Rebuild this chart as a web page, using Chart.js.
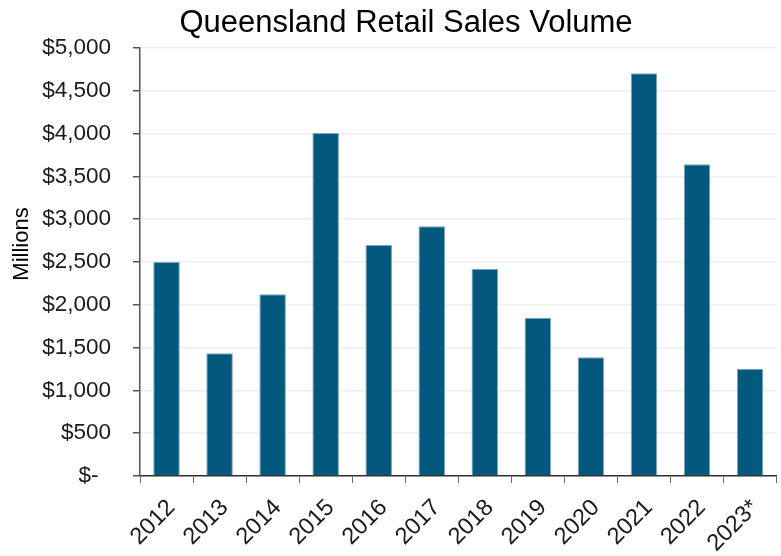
<!DOCTYPE html>
<html>
<head>
<meta charset="utf-8">
<script src="https://cdn.jsdelivr.net/npm/chart.js@4/dist/chart.umd.min.js"></script>
<style>
  html, body { margin: 0; padding: 0; background: #ffffff; }
  #wrap { width: 781px; height: 556px; }
</style>
</head>
<body>
<div id="wrap"><canvas id="c" width="781" height="556"></canvas></div>
<script>
const categories = ['2012', '2013', '2014', '2015', '2016', '2017', '2018', '2019', '2020', '2021', '2022', '2023*'];
const salesVolume = [2500, 1435, 2122, 4007, 2700, 2917, 2422, 1850, 1386, 4704, 3641, 1254];
const yTickLabels = ['$-  ', '$500', '$1,000', '$1,500', '$2,000', '$2,500', '$3,000', '$3,500', '$4,000', '$4,500', '$5,000'];
const chartTitle = 'Queensland Retail Sales Volume';
const yAxisTitle = 'Millions';

const FONT = "'Liberation Sans', Arial, Helvetica, sans-serif";

const textPlugin = {
  id: 'textPlugin',
  afterDraw(chart) {
    const ctx = chart.ctx;
    ctx.save();
    ctx.fillStyle = '#000000';
    ctx.font = "31px " + FONT;
    ctx.textAlign = 'center';
    ctx.textBaseline = 'alphabetic';
    ctx.fillText(chartTitle, 406, 32);
    ctx.translate(22, 244);
    ctx.rotate(-Math.PI / 2);
    ctx.font = "22px " + FONT;
    ctx.textBaseline = 'middle';
    ctx.fillText(yAxisTitle, 0, 0);
    ctx.restore();
  }
};

new Chart(document.getElementById('c'), {
  type: 'bar',
  data: {
    labels: categories,
    datasets: [{
      data: salesVolume,
      backgroundColor: '#03597D',
      borderColor: '#7FA6BE',
      borderWidth: 1,
      categoryPercentage: 1.0,
      barPercentage: 0.5
    }]
  },
  plugins: [textPlugin],
  options: {
    responsive: false,
    animation: false,
    layout: { padding: { left: 0, right: -3, top: 48, bottom: 0 } },
    plugins: {
      legend: { display: false },
      tooltip: { enabled: false },
      title: { display: false }
    },
    scales: {
      x: {
        grid: {
          display: true,
          drawOnChartArea: false,
          drawTicks: true,
          tickLength: 7,
          color: '#666666',
          offset: true
        },
        border: { display: true, color: '#333333', width: 1.5 },
        ticks: {
          color: '#1a1a1a',
          font: { family: FONT, size: 23.5 },
          maxRotation: 45,
          minRotation: 45,
          padding: 11,
          labelOffset: 5,
          autoSkip: false
        },
        afterFit: (scale) => { scale.height = 80; }
      },
      y: {
        min: 0,
        max: 5000,
        ticks: {
          stepSize: 500,
          color: '#1a1a1a',
          font: { family: FONT, size: 22.5 },
          padding: 22,
          callback: (value, index) => yTickLabels[index]
        },
        grid: {
          color: '#EEEEEE',
          lineWidth: 1.5,
          tickLength: 7,
          tickColor: '#555555',
          drawTicks: true
        },
        border: { display: true, color: '#555555', width: 1.5 },
        title: { display: false },
        afterFit: (scale) => { scale.width = 140; }
      }
    }
  }
});
</script>
</body>
</html>
